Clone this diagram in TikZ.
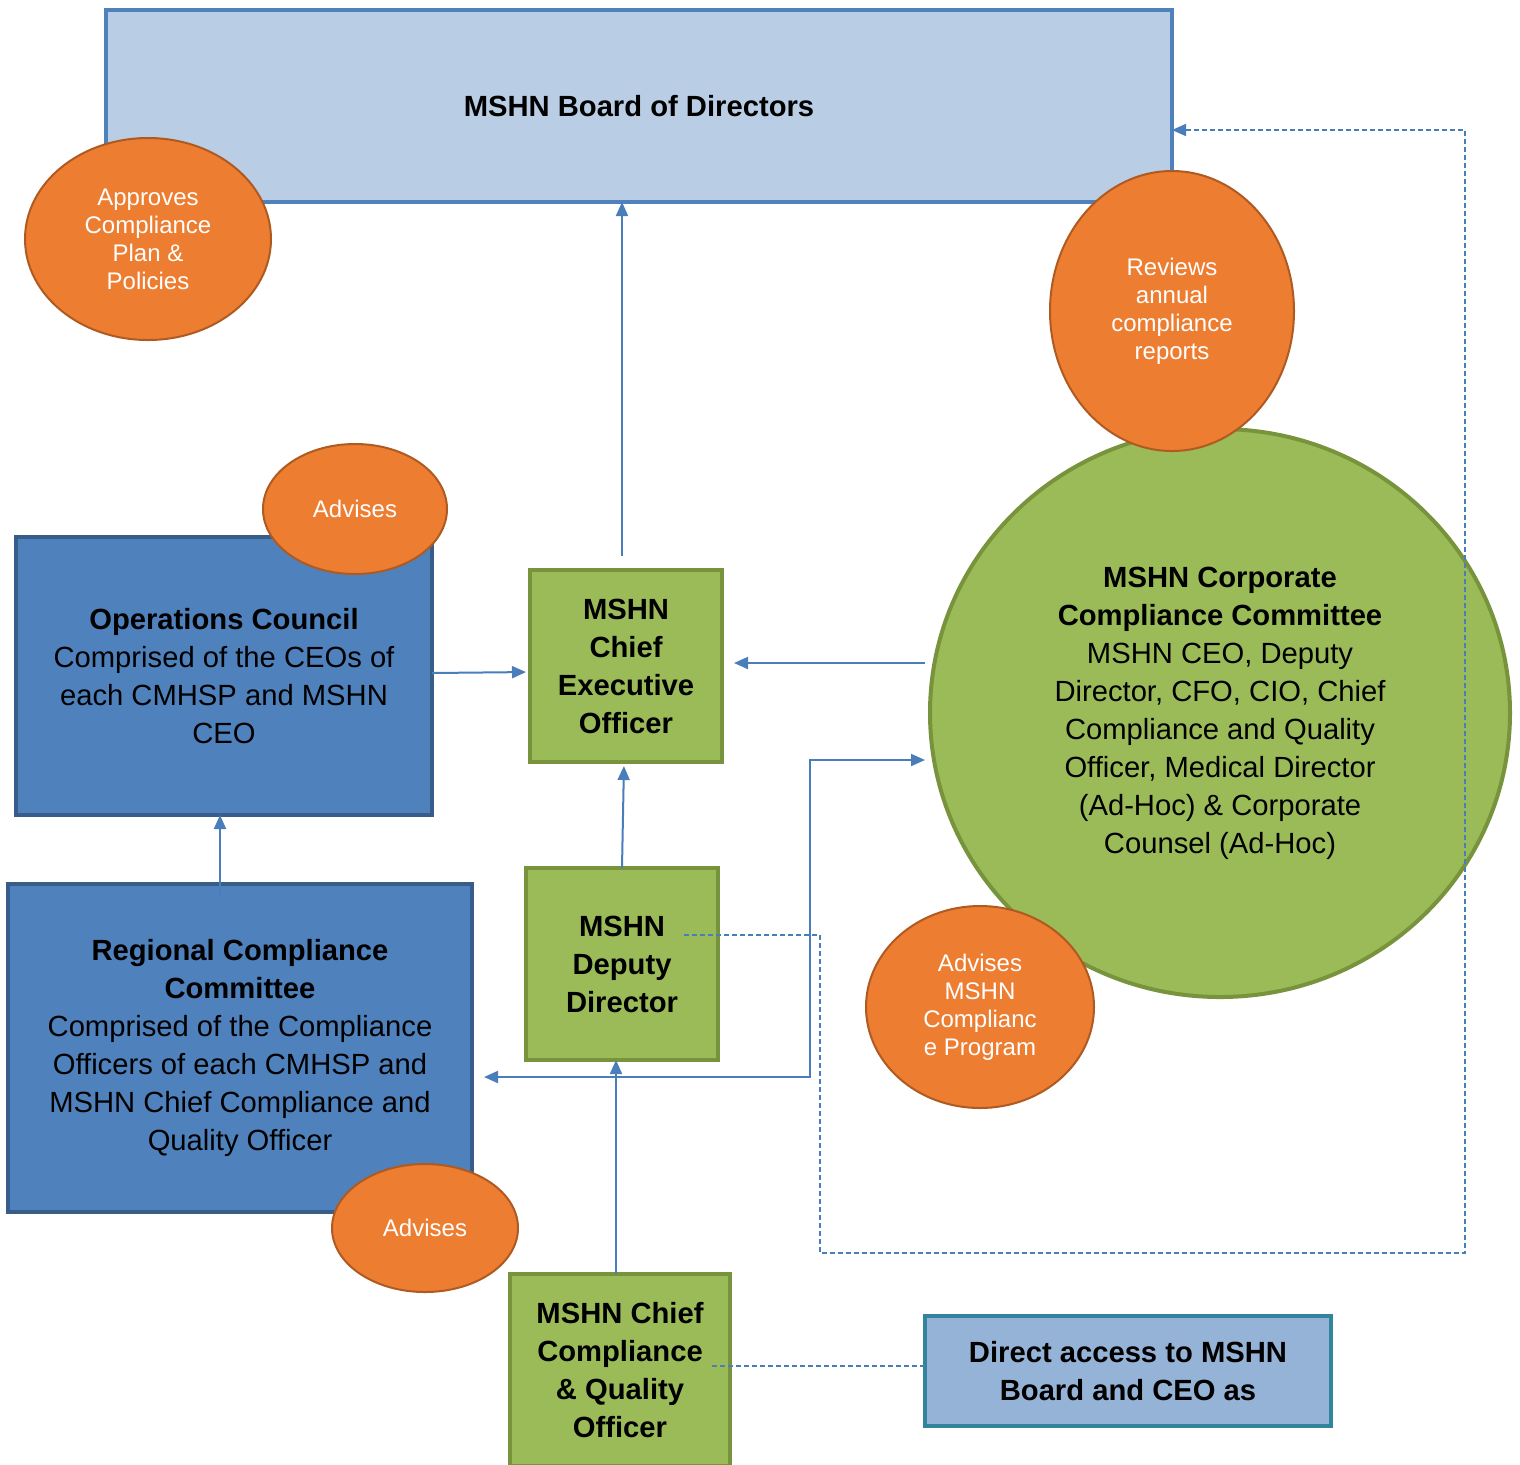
\documentclass[tikz,border=0pt]{standalone}
\usepackage{fontspec}
\setmainfont{Liberation Sans}
\usetikzlibrary{shapes.geometric,arrows.meta}

\definecolor{boardfill}{HTML}{B9CDE5}
\definecolor{boardline}{HTML}{4F81BD}
\definecolor{councilfill}{HTML}{4F81BD}
\definecolor{councilline}{HTML}{385D8A}
\definecolor{officefill}{HTML}{9BBB59}
\definecolor{officeline}{HTML}{77933C}
\definecolor{ovalfill}{HTML}{ED7D31}
\definecolor{ovalline}{HTML}{AE5A21}
\definecolor{accessfill}{HTML}{95B3D7}
\definecolor{accessline}{HTML}{31849B}
\definecolor{linkblue}{HTML}{4A7EBB}

\tikzset{
  every node/.style={inner sep=0pt, outer sep=0pt},
  bigtext/.style={align=center, font=\fontsize{14.6}{19}\selectfont},
  boardbox/.style={bigtext, draw=boardline, fill=boardfill, line width=2pt},
  councilbox/.style={bigtext, draw=councilline, fill=councilfill, line width=2pt},
  officebox/.style={bigtext, draw=officeline, fill=officefill, line width=2pt, font=\fontsize{14.6}{19}\selectfont\bfseries},
  accessbox/.style={bigtext, draw=accessline, fill=accessfill, line width=2pt, font=\fontsize{14.6}{19}\selectfont\bfseries},
  oval/.style={ellipse, draw=ovalline, fill=ovalfill, line width=1pt, text=white, align=center, font=\fontsize{12}{14}\selectfont},
  conn/.style={draw=linkblue, line width=1pt, -{Triangle[length=7pt,width=6pt]}},
  dashconn/.style={draw=linkblue, line width=0.8pt, dash pattern=on 2.5pt off 1.5pt},
}

\begin{document}
\begin{tikzpicture}[x=0.5pt, y=-0.5pt]
  \useasboundingbox (0,0) rectangle (1520,1464);

  % board and its role
  \node[boardbox, minimum width=533pt, minimum height=96pt] (board) at (639,106) {\textbf{MSHN Board of Directors}};
  \node[oval, minimum width=123pt, minimum height=101pt] (approves) at (148,239) {Approves\\Compliance\\Plan \&\\Policies};

  % corporate compliance committee
  \node[bigtext, draw=officeline, fill=officefill, line width=2pt, ellipse, minimum width=290pt, minimum height=284pt] (corp) at (1220,713)
    {\textbf{MSHN Corporate}\\\textbf{Compliance Committee}\\MSHN CEO, Deputy\\Director, CFO, CIO, Chief\\Compliance and Quality\\Officer, Medical Director\\(Ad-Hoc) \& Corporate\\Counsel (Ad-Hoc)};
  \node[oval, minimum width=122pt, minimum height=140pt] (reviews) at (1172,311) {Reviews\\annual\\compliance\\reports};
  \node[oval, minimum width=114pt, minimum height=101pt] (advcorp) at (980,1007) {Advises\\MSHN\\Complianc\\e Program};

  % councils
  \node[councilbox, minimum width=208pt, minimum height=139pt] (ops) at (224,676)
    {\textbf{Operations Council}\\Comprised of the CEOs of\\each CMHSP and MSHN\\CEO};
  \node[oval, minimum width=92pt, minimum height=65pt] (advops) at (355,509) {Advises};
  \node[councilbox, minimum width=232pt, minimum height=164pt] (regional) at (240,1048)
    {\textbf{Regional Compliance}\\\textbf{Committee}\\Comprised of the Compliance\\Officers of each CMHSP and\\MSHN Chief Compliance and\\Quality Officer};
  \node[oval, minimum width=93pt, minimum height=64pt] (advreg) at (425,1228) {Advises};

  % officers
  \node[officebox, minimum width=96pt, minimum height=96pt] (ceo) at (626,666) {MSHN\\Chief\\Executive\\Officer};
  \node[officebox, minimum width=96pt, minimum height=96pt] (deputy) at (622,964) {MSHN\\Deputy\\Director};
  \node[officebox, minimum width=110pt, minimum height=96pt] (cco) at (620,1370) {MSHN Chief\\Compliance\\\& Quality\\Officer};
  \node[accessbox, minimum width=203pt, minimum height=55pt] (access) at (1128,1371) {Direct access to MSHN\\Board and CEO as};

  % reporting lines
  \draw[conn, shorten <=7pt] ([xshift=-2pt]ceo.north) -- ([xshift=-2pt]ceo.north |- board.south);
  \draw[conn, shorten >=2pt] ([yshift=1.5pt]ops.east) -- ([yshift=-3pt]ceo.west);
  \draw[conn, shorten <=2.5pt, shorten >=6pt] ([yshift=1.5pt]corp.west |- ceo.east) -- ([yshift=1.5pt]ceo.east);
  \draw[conn, shorten >=2pt] (deputy.north) -- ([xshift=-1pt]ceo.south);
  \draw[conn] ([xshift=-2pt,yshift=-6.5pt]regional.north -| ops.south) -- ([xshift=-2pt]ops.south);
  \draw[conn] ([xshift=-2pt]cco.north) -- ([xshift=-2pt]cco.north |- deputy.south);

  \coordinate (split) at (810,1077);
  \coordinate (corpin) at (925,760);
  \draw[conn, {Triangle[length=7pt,width=6pt]}-{Triangle[length=7pt,width=6pt]}, shorten <=6pt]
    (regional.east |- split) -- (split) |- (corpin);

  % direct access lines
  \coordinate (depout) at (684,935);
  \coordinate (loopA) at (820,1253);
  \coordinate (loopB) at (1465,130);
  \draw[dashconn, -{Triangle[length=7pt,width=6pt]}] (depout) -| (loopA) -| (loopB) -- ([yshift=-12pt]board.east);
  \draw[dashconn] ([xshift=-9pt,yshift=2pt]cco.east) -- ([yshift=2pt]cco.east -| access.west);
\end{tikzpicture}
\end{document}
